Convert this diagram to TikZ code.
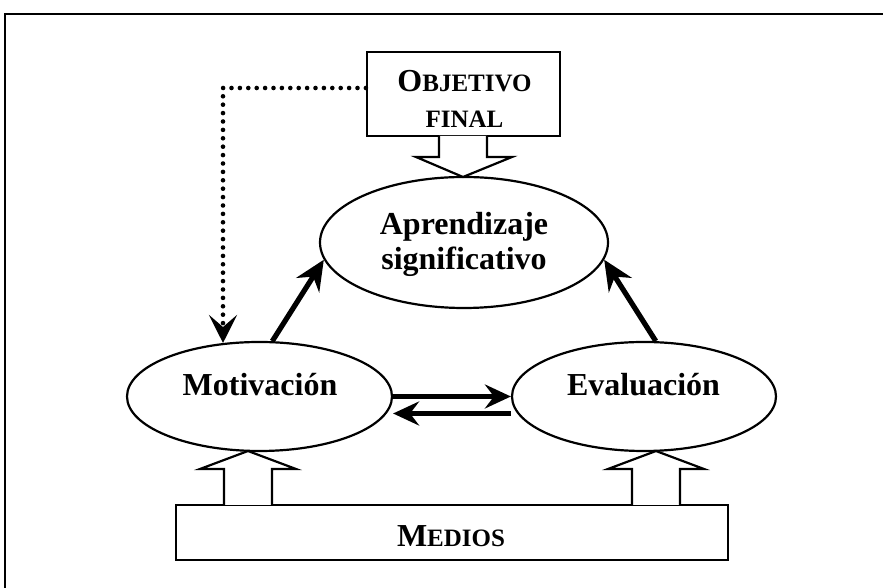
\documentclass[tikz,border=0pt]{standalone}
\usepackage{fontspec}
\setmainfont{Liberation Serif}
\usetikzlibrary{arrows.meta,shapes.geometric,calc}
\newcommand{\mybigfont}{\fontsize{32}{36}\selectfont}
\newcommand{\mysmc}{\fontsize{25}{30}\selectfont}
\begin{document}
\begin{tikzpicture}[x=1pt,y=1pt,
  ell/.style={draw,ellipse,line width=2.2pt,inner sep=0pt},
  boxs/.style={draw,rectangle,line width=2.2pt,inner sep=0pt},
  txt/.style={anchor=base,inner sep=0pt,font=\bfseries\mybigfont},
  bigarrow/.style={line width=5.2pt,-{Stealth[length=30pt,width=27pt,inset=10pt]}},
  harrow/.style={line width=4.6pt,-{Stealth[length=26pt,width=24pt,inset=9pt]}},
  dotarrow/.style={line width=4.6pt,line cap=round,dash pattern=on 0pt off 8.4pt,-{Stealth[length=28pt,width=28pt,inset=12pt]}},
  blockarrow/.style={draw,line width=2.2pt,fill=white,line join=miter}
]
\useasboundingbox (0,0) rectangle (883,588);
% frame
\draw[line width=2.8pt] (5,0) -- (5,574) -- (883,574);

% nodes
\node[boxs,minimum width=193pt,minimum height=84pt] (obj) at (463.5,494) {};
\node[txt] (objA) at (464.5,496) {O{\mysmc BJETIVO}};
\node[txt] (objB) at (464.5,460) {\mysmc FINAL};

\node[ell,minimum width=288pt,minimum height=131pt] (apr) at (464,345.5) {};
\node[txt] (aprA) at (464,353) {Aprendizaje};
\node[txt] (aprB) at (464,318) {significativo};

\node[ell,minimum width=265pt,minimum height=109pt] (mot) at (259.5,191.5) {};
\node[txt] (motT) at (260,192) {Motivación};

\node[ell,minimum width=264pt,minimum height=109pt] (eva) at (644,191.5) {};
\node[txt] (evaT) at (643.5,192) {Evaluación};

\node[boxs,minimum width=552pt,minimum height=55pt] (med) at (452,55.5) {};
\node[txt] (medT) at (451,41) {M{\mysmc EDIOS}};

% block arrows
\draw[blockarrow] (439,452) -- (439,431) -- (416,431) -- (463,411) -- (512,431) -- (487,431) -- (487,452);
\draw[blockarrow] (224,83) -- (224,119) -- (200,119) -- (248,137) -- (296,119) -- (272,119) -- (272,83);
\draw[blockarrow] (632,83) -- (632,119) -- (608,119) -- (656,137) -- (704,119) -- (680,119) -- (680,83);

% connectors
\draw[bigarrow] (mot.77) -- (apr.187);
\draw[bigarrow] (eva.78) -- (apr.-7);
\draw[harrow] (mot.east) -- (eva.west);
\coordinate (evaL) at ($(eva.west)+(0,-17)$);
\coordinate (motR) at ($(mot.east)+(0,-17)$);
\draw[harrow] (evaL) -- (motR);
\coordinate (dotS) at ($(obj.west)+(0,6)$);
\coordinate (dotE) at (223,245);
\draw[dotarrow] (dotS) -| (dotE);
\end{tikzpicture}
\end{document}
